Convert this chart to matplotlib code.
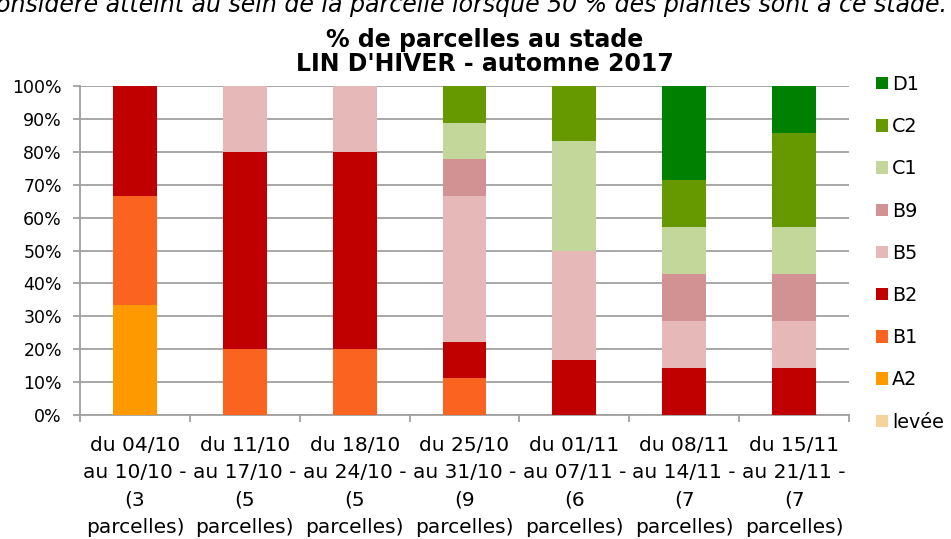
#!/usr/bin/env python3

import numpy as np
import matplotlib
matplotlib.use("Agg")
import matplotlib.pyplot as plt
from matplotlib.patches import Patch

# Periods and number of parcels observed in each
date_from = ["04/10", "11/10", "18/10", "25/10", "01/11", "08/11", "15/11"]
date_to = ["10/10", "17/10", "24/10", "31/10", "07/11", "14/11", "21/11"]
n_parcelles = [3, 5, 5, 9, 6, 7, 7]

# Number of parcels at each stage, per period
stages = ["levée", "A2", "B1", "B2", "B5", "B9", "C1", "C2", "D1"]
levee = [0, 0, 0, 0, 0, 0, 0]
a2 = [1, 0, 0, 0, 0, 0, 0]
b1 = [1, 1, 1, 1, 0, 0, 0]
b2 = [1, 3, 3, 1, 1, 1, 1]
b5 = [0, 1, 1, 4, 2, 1, 1]
b9 = [0, 0, 0, 1, 0, 1, 1]
c1 = [0, 0, 0, 1, 2, 1, 1]
c2 = [0, 0, 0, 1, 1, 1, 2]
d1 = [0, 0, 0, 0, 0, 2, 1]

colors = ["#F5D49B", "#FF9900", "#FA6420", "#C00000", "#E6B8B7",
          "#D29192", "#C4D79B", "#669900", "#008000"]

grid_col = "#a0a0a0"

W, H = 951, 539
fig = plt.figure(figsize=(W / 100, H / 100), dpi=100)
ax = fig.add_axes([80 / W, 1 - 415 / H, (849 - 80) / W, (415 - 86) / H])

counts = [levee, a2, b1, b2, b5, b9, c1, c2, d1]
n = np.array(n_parcelles, dtype=float)
x = np.arange(len(n_parcelles))
bottom = np.zeros(len(x))
for stage, cnt, col in zip(stages, counts, colors):
    pct = np.array(cnt) / n * 100
    ax.bar(x, pct, 0.4, bottom=bottom, color=col, edgecolor="none",
           label=stage, zorder=3)
    bottom += pct

ax.set_xlim(-0.5, len(x) - 0.5)
ax.set_ylim(0, 100)
ax.set_yticks(np.arange(0, 101, 10))
ax.set_yticklabels(["%d%%" % v for v in range(0, 101, 10)], fontsize=12.5)
ax.yaxis.grid(True, color=grid_col, lw=1.3, zorder=0)

labels = ["du %s\nau %s -\n(%d\nparcelles)" % (a, b, k)
          for a, b, k in zip(date_from, date_to, n_parcelles)]
ax.set_xticks(x)
ax.set_xticklabels(labels, fontsize=14.5, linespacing=1.55)
ax.set_xticks(np.arange(-0.5, len(x)), minor=True)
ax.tick_params(axis="x", which="major", length=0, pad=15)
ax.tick_params(axis="x", which="minor", length=5, width=1.3, color=grid_col)
ax.tick_params(axis="y", length=5, width=1.3, color=grid_col, pad=8)

for s in ["top", "right"]:
    ax.spines[s].set_visible(False)
for s in ["left", "bottom"]:
    ax.spines[s].set_color(grid_col)
    ax.spines[s].set_linewidth(1.3)

# Legend, top stage first
handles = [Patch(facecolor=c, edgecolor="none", label=s)
           for s, c in zip(stages[::-1], colors[::-1])]
fig.legend(handles=handles, loc="upper left",
           bbox_to_anchor=(876 / W, 1 - 75 / H), frameon=False,
           fontsize=13.8, handlelength=0.62, handleheight=0.62,
           handletextpad=0.22, labelspacing=1.21, borderpad=0,
           borderaxespad=0)

# Titles
fig.text(485 / W, 1 - 47 / H, "% de parcelles au stade", ha="center",
         va="baseline", fontsize=17, fontweight="bold")
fig.text(485 / W, 1 - 71 / H, "LIN D'HIVER - automne 2017", ha="center",
         va="baseline", fontsize=17, fontweight="bold")

# Note above the chart, cut by the top edge as in the source image
fig.text(947 / W, 1 - 12 / H,
         "considéré atteint au sein de la parcelle lorsque 50 % des plantes sont à ce stade.",
         ha="right", va="baseline", fontsize=17, style="italic")

fig.savefig("out.png", dpi=100)
